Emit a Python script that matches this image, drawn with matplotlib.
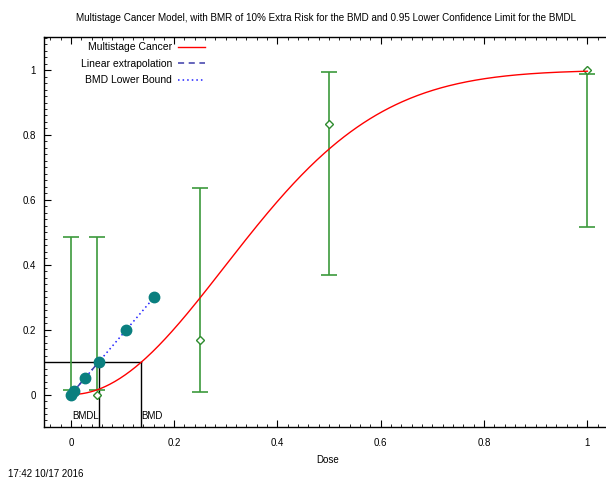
import numpy as np
import matplotlib
matplotlib.use("Agg")
import matplotlib.pyplot as plt
from matplotlib.ticker import MultipleLocator

plt.rcParams['font.family'] = ['Liberation Sans', 'DejaVu Sans']

# Observed dose-response data with confidence limits
doses = [0.0, 0.05, 0.25, 0.5, 1.0]
observed = [0.0, 0.0, 0.167, 0.835, 1.0]
ci_lower = [0.015, 0.015, 0.008, 0.367, 0.517]
ci_upper = [0.484, 0.484, 0.638, 0.993, 0.988]

# Fitted multistage model parameters: P(d) = bg + (1-bg)(1 - exp(-b1 d - b2 d^2))
background = 0.0
beta1 = 0.0
beta2 = 5.655

# Benchmark dose results
bmr = 0.1
bmd = 0.1365
bmdl = 0.0538

# Risk levels along the lower-bound line
bound_risks = [0.0, 0.01, 0.05, 0.1, 0.2, 0.3]

fig = plt.figure(figsize=(6.06, 4.79), dpi=100)
fig.patch.set_edgecolor('none')
ax = fig.add_axes([0.0726, 0.1086, 0.95, 0.8142])

d = np.linspace(0, 1, 400)
p = background + (1 - background) * (1 - np.exp(-beta1 * d - beta2 * d ** 2))
ax.plot(d, p, color='red', lw=1.0, label='Multistage Cancer', zorder=3)

# Lower bound line and points
bound_doses = [r / bmr * bmdl for r in bound_risks]
ax.plot(bound_doses, bound_risks, linestyle=(0, (1, 2)), color='#1f1fff', lw=1.1,
        label='BMD Lower Bound', zorder=4)
ax.plot([0, bmdl], [0, bmr], linestyle=(0, (4, 3)), color='#3a3aaa', lw=1.1,
        label='Linear extrapolation', zorder=4)
ax.plot(bound_doses, bound_risks, 'o', color='#0a7f7f', ms=7.5, zorder=5)

# Observed data with confidence interval bars
bar_color = '#3c9a3c'
ax.vlines(doses, ci_lower, ci_upper, color=bar_color, lw=1.2, zorder=2)
ax.plot(doses, ci_lower, '_', color=bar_color, ms=11, mew=1.2, zorder=2)
ax.plot(doses, ci_upper, '_', color=bar_color, ms=11, mew=1.2, zorder=2)
ax.plot(doses, observed, 'D', ms=4.5, mfc='white', mec='#2e8b2e', mew=1.0, zorder=2)

# BMD / BMDL reference lines
xmin, xmax = -0.052, 1.0625
ymin, ymax = -0.1, 1.102
ax.plot([xmin, bmd], [bmr, bmr], color='black', lw=1.0, zorder=1)
ax.plot([bmdl, bmdl], [ymin, bmr], color='black', lw=1.0, zorder=1)
ax.plot([bmd, bmd], [ymin, bmr], color='black', lw=1.0, zorder=1)
ax.text(bmdl, -0.065, 'BMDL', ha='right', va='center', fontsize=7)
ax.text(bmd, -0.065, 'BMD', ha='left', va='center', fontsize=7)

ax.set_xlim(xmin, xmax)
ax.set_ylim(ymin, ymax)
ax.xaxis.set_major_locator(MultipleLocator(0.2))
ax.xaxis.set_minor_locator(MultipleLocator(0.02))
ax.yaxis.set_major_locator(MultipleLocator(0.2))
ax.yaxis.set_minor_locator(MultipleLocator(0.02))
ax.xaxis.set_major_formatter(plt.FuncFormatter(lambda v, _: f'{v:g}'))
ax.yaxis.set_major_formatter(plt.FuncFormatter(lambda v, _: f'{v:g}'))
ax.tick_params(which='both', direction='in', top=True, right=False, labelsize=7, pad=8)
ax.tick_params(which='major', length=5, width=0.8)
ax.tick_params(which='minor', length=2.5, width=0.6)
ax.tick_params(axis='y', pad=6)
for s in ax.spines.values():
    s.set_linewidth(1.0)
ax.spines['right'].set_visible(False)

handles, labels = ax.get_legend_handles_labels()
order = [labels.index('Multistage Cancer'), labels.index('Linear extrapolation'),
         labels.index('BMD Lower Bound')]
ax.legend([handles[i] for i in order], [labels[i] for i in order], loc='upper left',
          bbox_to_anchor=(0.048, 1.01), frameon=False, markerfirst=False, fontsize=7.5,
          handlelength=2.6, handletextpad=0.55, labelspacing=0.62)

fig.text(326 / 606, 1 - 18 / 479, 'Multistage Cancer Model, with BMR of 10% Extra Risk for the BMD '
         'and 0.95 Lower Confidence Limit for the BMDL', ha='center', va='center', fontsize=7.1)
fig.text(328 / 606, 1 - 460 / 479, 'Dose', ha='center', va='center', fontsize=7)
fig.text(8 / 606, 1 - 474 / 479, '17:42 10/17 2016', ha='left', va='center', fontsize=7)

fig.savefig('out.png', dpi=100)
